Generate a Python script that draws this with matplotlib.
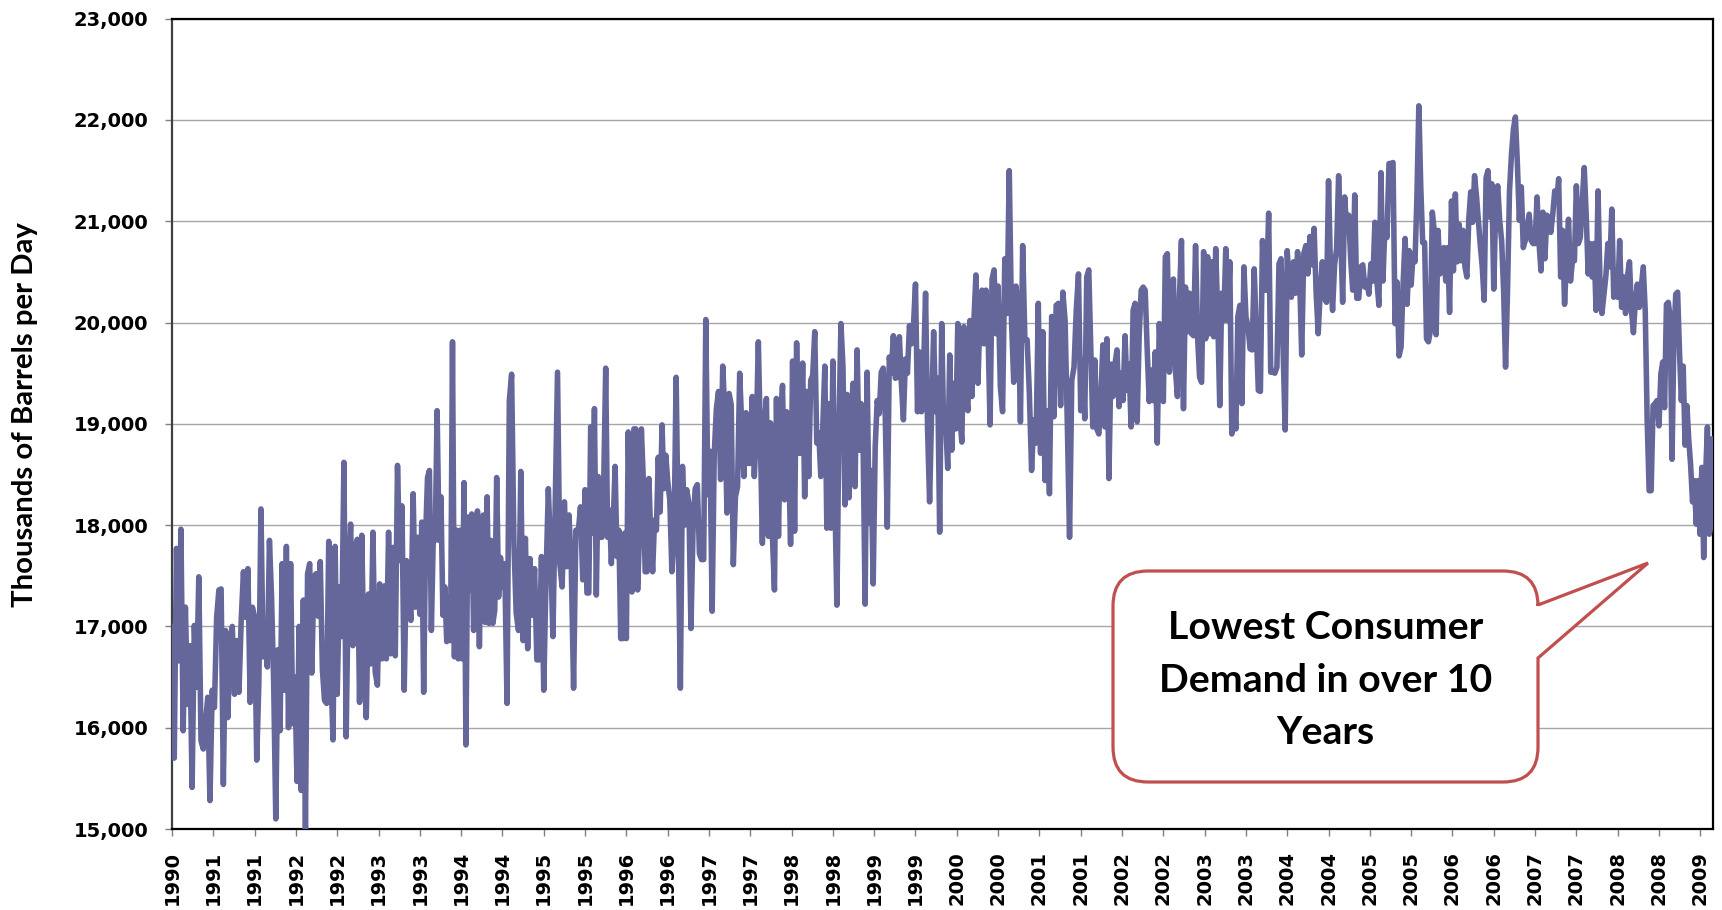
import numpy as np
import matplotlib
matplotlib.use('Agg')
from matplotlib import pyplot as plt
from matplotlib.path import Path
from matplotlib.patches import PathPatch
from matplotlib.ticker import FuncFormatter

# weekly U.S. product supplied, thousand barrels per day
# each list runs one year from August to August (last one is partial)
w1990 = [17000, 15700, 17770, 16660, 17960, 15970, 17190, 16230, 16810, 15410, 17010, 16400, 17490,
         15870, 15790, 16040, 16300, 15280, 16370, 16200, 17090, 17360, 17370, 15440, 16960, 16100,
         16830, 17000, 16330, 16860, 16350, 17060, 17540, 17090, 17570, 16250, 17190]
w1991 = [17090, 15680, 16440, 18160, 16700, 16830, 16600, 17850, 17290, 16440, 15100, 16770, 15970,
         17620, 16370, 17790, 16000, 17620, 16040, 16500, 15470, 17000, 15380, 17260, 14990, 17520,
         17620, 16540, 17490, 17520, 17100, 17640, 16570, 16270, 16240, 17840, 16570, 15880, 17790]
w1992 = [16330, 17390, 16900, 18620, 15910, 17450, 18010, 16810, 17780, 17860, 16250, 17900, 16630,
         16100, 17320, 16630, 17930, 16550, 16420, 17420, 16680, 17400, 16680, 17930, 16730, 17780,
         16710, 18590, 17650, 18190, 16370, 17650, 17320, 17060, 18310, 17190, 17880]
w1993 = [17120, 18030, 16350, 17880, 18470, 18540, 16960, 17880, 17850, 19130, 17850, 18280, 17110,
         17390, 16850, 17290, 16860, 19810, 16700, 17950, 16680, 17950, 16680, 18420, 15830, 18080,
         17360, 18110, 16960, 17570, 18140, 16800, 17900, 18100, 17040, 18280, 17030, 17850, 17030,
         17160, 18470, 17290, 17680]
w1994 = [17390, 17620, 16240, 19230, 19490, 17820, 17130, 16960, 18530, 16860, 17870, 16780, 17670,
         17110, 17570, 16670, 16670, 17690, 16370, 17490, 18360, 17720, 16900, 18180, 19510, 17620,
         17390, 18230, 17590, 18100, 17590, 16390, 17950, 17920, 18180, 17460]
w1995 = [18350, 17330, 17330, 18970, 17920, 19150, 17310, 18480, 17880, 17880, 18480, 19550, 17880,
         18150, 17620, 18020, 18580, 17690, 17950, 16880, 16880, 17920, 16880, 18920, 17790, 17340,
         18950, 18950, 17360, 17920, 18950, 18460, 17540, 17540, 18460, 17880, 17540, 18050, 17950,
         18670, 18130, 18990, 18360, 18690]
w1996 = [18440, 18250, 17540, 17880, 19460, 17880, 16390, 18580, 18000, 18350, 18220, 16980, 17990,
         18360, 18400, 17720, 17660, 17660, 20030, 18300, 18730, 17150, 18710, 19150, 19320, 18450,
         19570, 19110, 18120, 19300, 19190, 17610, 18280, 18380, 19500, 18970, 18480, 19110, 18610]
w1997 = [18610, 19270, 18480, 18910, 19810, 18880, 17820, 19010, 19250, 17890, 19010, 17890, 17360,
         19250, 17890, 19010, 19380, 18250, 19120, 18710, 17810, 19620, 17940, 19800, 18710, 18710,
         19600, 18280, 19320, 18480, 19430, 19480, 19910, 18810, 18910, 18480, 18970, 19570, 17970,
         19200, 17970]
w1998 = [19620, 18250, 17210, 18950, 19990, 19570, 18200, 19290, 18270, 19030, 19400, 18380, 19730,
         18740, 19200, 18800, 17220, 19510, 18020, 18540, 17420, 18770, 19230, 19100, 19510, 19550,
         19070, 17980, 19660, 19500, 19870, 19450, 19460, 19860, 19400, 19040, 19640, 19500, 19970,
         19790, 19970]
w1999 = [20380, 19120, 19710, 19120, 19530, 20290, 18940, 18230, 19120, 19910, 19120, 19450, 17930,
         19990, 18940, 19000, 18560, 19680, 18740, 19400, 18950, 19990, 19070, 18820, 19960, 19340,
         19130, 20020, 19270, 20020, 20470, 19400, 20090, 20320, 19790, 20320, 19920, 18990, 20430,
         20520, 19890]
w2000 = [20360, 19370, 19120, 20630, 20090, 21500, 20020, 19410, 20360, 20140, 19020, 20760, 19830,
         19830, 19300, 18540, 19040, 18810, 20190, 18710, 19910, 18440, 19130, 18310, 20060, 19070,
         20170, 20190, 19180, 20300, 20020, 19000, 17880, 19430, 19560, 20120, 20480]
w2001 = [19130, 19630, 19050, 20450, 20520, 19730, 18970, 19630, 18950, 18900, 19270, 19780, 18970,
         19840, 18460, 19590, 19270, 19590, 19730, 19170, 19500, 19230, 19870, 19330, 19590, 18970,
         20120, 20190, 19020, 19860, 20320, 20350, 20320, 19730, 19220, 19530, 19230, 19710, 18810,
         19990, 19530]
w2002 = [19220, 20650, 20680, 19510, 19950, 20430, 19530, 19270, 20250, 20810, 19150, 20350, 19910,
         20290, 19890, 19870, 20760, 19860, 19460, 19410, 20700, 19840, 20650, 19890, 20600, 19860,
         20730, 20060, 19180, 20290, 20020, 20730, 20020, 20600, 18900, 19270, 18950, 20060, 20170,
         19200, 20550]
w2003 = [20060, 19960, 19740, 19730, 20530, 19930, 19330, 19320, 20810, 20320, 20320, 21080, 19510,
         19510, 19500, 19560, 20580, 20630, 19730, 18940, 20710, 20350, 20250, 20600, 20290, 20700,
         20450, 19680, 20680, 20760, 20480, 20850, 20570, 20930, 20290, 19890, 20320, 20600, 20240,
         20200]
w2004 = [21400, 20480, 20120, 20570, 20730, 21450, 20910, 20200, 21240, 20910, 21060, 20620, 20320,
         21260, 20240, 20240, 20550, 20570, 20350, 20410, 20280, 20580, 20410, 20990, 20410, 20170,
         21480, 20410, 20970, 20840, 21570, 21570, 21580, 19990, 20400, 19670, 19760, 20380, 20830,
         20180, 20710]
w2005 = [20370, 20680, 20600, 21240, 22140, 21340, 20790, 20790, 19840, 19810, 19920, 21090, 20910,
         19880, 20910, 20480, 20540, 20740, 20410, 20740, 20100, 21200, 20510, 21270, 20600, 20970,
         20610, 20910, 20550, 20450, 21020, 21290, 20990, 21450, 21250, 21010, 20760, 20550, 20220,
         21430, 21500, 21040, 21370]
w2006 = [20330, 21150, 21350, 21010, 20810, 20320, 19560, 20320, 21300, 21660, 21910, 22030, 21570,
         21010, 21340, 20740, 20810, 20940, 21070, 20810, 20780, 20780, 21240, 20790, 20510, 21090,
         20630, 21060, 21040, 20890, 21070, 21300, 21200, 21420, 20450, 20910, 20180, 20640, 21020,
         20410, 20610, 20610]
w2007 = [21350, 20780, 20840, 21200, 21530, 21060, 20480, 20780, 20450, 20780, 20120, 21300, 20410,
         20090, 20280, 20460, 20780, 20550, 21120, 20250, 20510, 20250, 20810, 20150, 20450, 20090,
         20460, 20600, 20120, 19900, 20220, 20380, 20150, 20350, 20550, 20120, 19030, 18340, 18340,
         19180, 19200, 19230]
w2008 = [18980, 19490, 19610, 19160, 20180, 20200, 20050, 18650, 19850, 20280, 20300, 19720, 19230,
         19570, 18790, 19180, 18840, 18590, 18230, 18440, 18010, 18440, 17910, 18570, 17680, 18470,
         18970, 17910, 18010, 18850]
last_weeks = 34

tick_labels = [str(1990 + (k + 1) // 2) for k in range(38)]

years = [w1990, w1991, w1992, w1993, w1994, w1995, w1996, w1997, w1998, w1999,
         w2000, w2001, w2002, w2003, w2004, w2005, w2006, w2007, w2008]

xs, ys = [], []
for k, vals in enumerate(years):
    n = len(vals)
    if k < len(years) - 1:
        pos = 52 * k + 52 * np.arange(n) / n
    else:
        pos = 52 * k + last_weeks * np.arange(n) / (n - 1)
    xs.extend(pos)
    ys.extend(vals)

W, H = 1722, 910
fig = plt.figure(figsize=(W / 100, H / 100), dpi=100)
ax = fig.add_axes([172 / W, 1 - 829 / H, (1713 - 172) / W, (829 - 18.7) / H])

ax.plot(xs, ys, color='#65679A', lw=4.0, solid_joinstyle='round', zorder=3)

ax.set_xlim(0, 52 * (len(years) - 1) + last_weeks)
ax.set_ylim(15000, 23000)
ax.set_yticks(np.arange(15000, 23001, 1000))
ax.yaxis.set_major_formatter(FuncFormatter(lambda v, p: f'{int(v):,}'))
ax.set_xticks(np.arange(len(tick_labels)) * 26)
ax.set_xticklabels(tick_labels, rotation=90)
ax.grid(axis='y', color='#A6A6A6', lw=1.0, zorder=0)
ax.set_axisbelow(True)

for side in ['top', 'right', 'bottom', 'left']:
    ax.spines[side].set_color('black')
    ax.spines[side].set_linewidth(1.6)
ax.spines['left'].set_color('#404040')

ax.tick_params(axis='both', direction='out', length=5, width=1, color='#808080')
ax.tick_params(axis='y', pad=12)
ax.tick_params(axis='x', pad=11)
for lab in ax.get_yticklabels():
    lab.set_fontweight('bold')
    lab.set_fontsize(14)
for lab in ax.get_xticklabels():
    lab.set_fontweight('bold')
    lab.set_fontsize(14)

fig.text(25 / W, 1 - 415 / H, 'Thousands of Barrels per Day', rotation=90,
         ha='center', va='center', family=['Lato', 'DejaVu Sans'], fontweight='bold', fontsize=21.2)

# callout balloon, in figure pixels (y down)
x0, y0, x1, y1, r = 1113, 571, 1538, 782, 35
tip = (1648, 563)
b_top, b_bot = 605, 658
pts = [(x0 + r, y0), (x1 - r, y0), (x1, y0), (x1, y0 + r), (x1, b_top), tip, (x1, b_bot),
       (x1, y1 - r), (x1, y1), (x1 - r, y1), (x0 + r, y1), (x0, y1), (x0, y1 - r),
       (x0, y0 + r), (x0, y0), (x0 + r, y0), (x0 + r, y0)]
codes = [Path.MOVETO, Path.LINETO, Path.CURVE3, Path.CURVE3, Path.LINETO, Path.LINETO, Path.LINETO,
         Path.LINETO, Path.CURVE3, Path.CURVE3, Path.LINETO, Path.CURVE3, Path.CURVE3,
         Path.LINETO, Path.CURVE3, Path.CURVE3, Path.CLOSEPOLY]
verts = [(px / W, 1 - py / H) for px, py in pts]
fig.patches.append(PathPatch(Path(verts, codes), transform=fig.transFigure, facecolor='white',
                             edgecolor='#C0504D', lw=2.3, zorder=5))
fig.text((x0 + x1) / 2 / W, 1 - 680 / H, 'Lowest Consumer\nDemand in over 10\nYears',
         ha='center', va='center', multialignment='center', family=['Lato', 'DejaVu Sans'],
         fontweight='bold', fontsize=28.3, linespacing=1.6, zorder=6)

fig.savefig('out.png', dpi=100)
